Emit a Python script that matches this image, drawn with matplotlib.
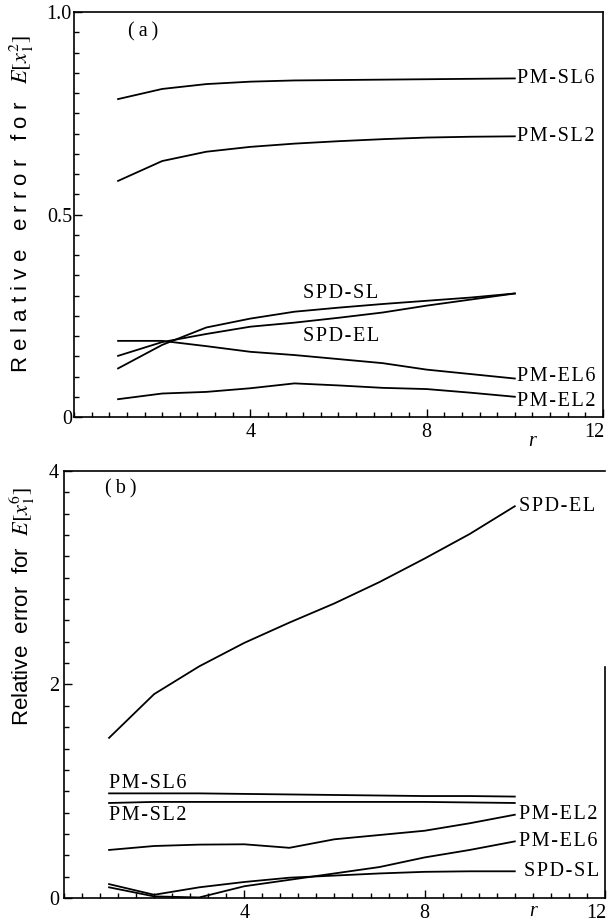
import matplotlib
matplotlib.use("Agg")
import matplotlib.pyplot as plt
import matplotlib.transforms as mtransforms
from matplotlib.ticker import MultipleLocator

plt.rcParams["font.family"] = ["Liberation Serif", "DejaVu Serif"]
plt.rcParams["mathtext.fontset"] = "stix"

r = [1, 2, 3, 4, 5, 6, 7, 8, 9, 10]

# (a) relative error for E[x1^2]
a_pm_sl6 = [0.785, 0.81, 0.822, 0.828, 0.831, 0.832, 0.833, 0.834, 0.835, 0.836]
a_pm_sl2 = [0.583, 0.632, 0.655, 0.667, 0.675, 0.681, 0.686, 0.69, 0.692, 0.693]
a_spd_sl = [0.120, 0.178, 0.221, 0.243, 0.260, 0.270, 0.279, 0.287, 0.295, 0.305]
a_spd_el = [0.151, 0.185, 0.205, 0.223, 0.233, 0.245, 0.258, 0.275, 0.290, 0.305]
a_pm_el6 = [0.188, 0.188, 0.175, 0.161, 0.153, 0.143, 0.133, 0.117, 0.106, 0.095]
a_pm_el2 = [0.044, 0.058, 0.062, 0.071, 0.083, 0.078, 0.072, 0.069, 0.060, 0.050]

# (b) relative error for E[x1^6]
b_spd_el = [1.50, 1.91, 2.17, 2.39, 2.58, 2.76, 2.96, 3.18, 3.41, 3.67]
b_pm_sl6 = [0.98, 0.98, 0.98, 0.975, 0.97, 0.965, 0.96, 0.955, 0.955, 0.95]
b_pm_sl2 = [0.89, 0.90, 0.90, 0.90, 0.90, 0.90, 0.90, 0.90, 0.895, 0.89]
b_pm_el2 = [0.45, 0.487, 0.50, 0.503, 0.47, 0.55, 0.59, 0.63, 0.70, 0.78]
b_pm_el6 = [0.10, 0.015, 0.005, 0.11, 0.17, 0.23, 0.29, 0.38, 0.45, 0.53]
b_spd_sl = [0.13, 0.03, 0.10, 0.15, 0.19, 0.21, 0.23, 0.245, 0.25, 0.25]


def spaced(s, sep="\u200a"):
    # the scanned figure has letter-spaced labels
    return sep.join(s)


fig = plt.figure(figsize=(6.11, 9.23), dpi=100)
ax1 = fig.add_axes([0.1211, 0.5482, 0.8658, 0.4388])
ax2 = fig.add_axes([0.1047, 0.0271, 0.8854, 0.4626])

lw = 1.3
fs = 14.5

for y in [a_pm_sl6, a_pm_sl2, a_spd_sl, a_spd_el, a_pm_el6, a_pm_el2]:
    ax1.plot(r, y, color="black", lw=lw)

for y in [b_spd_el, b_pm_sl6, b_pm_sl2, b_pm_el2, b_pm_el6, b_spd_sl]:
    ax2.plot(r, y, color="black", lw=lw)

# curve labels, panel (a)
ax1.text(10.05, a_pm_sl6[-1], spaced("PM-SL6"), fontsize=fs, va="center")
ax1.text(10.05, a_pm_sl2[-1], spaced("PM-SL2"), fontsize=fs, va="center")
ax1.text(6.05, 0.304, spaced("SPD-SL"), fontsize=fs, va="center", ha="center")
ax1.text(6.05, 0.198, spaced("SPD-EL"), fontsize=fs, va="center", ha="center")
ax1.text(10.05, 0.10, spaced("PM-EL6"), fontsize=fs, va="center")
ax1.text(10.05, 0.038, spaced("PM-EL2"), fontsize=fs, va="center")
ax1.text(1.57, 0.95, spaced("(a)", "\u2009"), fontsize=fs, va="center", ha="center")

# curve labels, panel (b)
ax2.text(10.1, b_spd_el[-1], spaced("SPD-EL"), fontsize=fs, va="center")
ax2.text(1.0, 1.077, spaced("PM-SL6"), fontsize=fs, va="center")
ax2.text(1.0, 0.777, spaced("PM-SL2"), fontsize=fs, va="center")
ax2.text(10.1, b_pm_el2[-1], spaced("PM-EL2"), fontsize=fs, va="center")
ax2.text(10.1, b_pm_el6[-1], spaced("PM-EL6"), fontsize=fs, va="center")
ax2.text(10.2, b_spd_sl[-1], spaced("SPD-SL"), fontsize=fs, va="center")
ax2.text(1.27, 3.83, spaced("(b)", "\u2009"), fontsize=fs, va="center", ha="center")

for ax, ymax, ystep, ypad, roff in [(ax1, 1.0, 0.05, 1.5, -11), (ax2, 4.0, 0.2, 3.5, -3)]:
    ax.set_xlim(0, 12)
    ax.set_ylim(0, ymax)
    ax.set_xticks([4, 8, 12])
    ax.xaxis.set_minor_locator(MultipleLocator(0.4))
    ax.yaxis.set_minor_locator(MultipleLocator(ystep))
    ax.tick_params(which="both", direction="in", top=False, right=False,
                   labelsize=fs, width=1.0)
    ax.tick_params(which="major", length=6)
    ax.tick_params(which="minor", length=3.6)
    ax.tick_params(axis="y", pad=ypad)
    ax.tick_params(axis="x", pad=4)
    for sp in ax.spines.values():
        sp.set_linewidth(1.2)
    ax.annotate("r", xy=(10.4, 0), xycoords=("data", "axes fraction"),
                xytext=(0, roff), textcoords="offset points",
                ha="center", va="top", fontsize=fs, style="italic")
    # pull the "12" label inside the figure edge
    last = ax.get_xticklabels()[-1]
    last.set_transform(last.get_transform()
                       + mtransforms.ScaledTranslation(-6 / 72, 0, fig.dpi_scale_trans))

ax1.set_yticks([0, 0.5, 1.0])
ax1.set_yticklabels(["0", "0.5", "1.0"])
ax2.set_yticks([0, 2, 4])
ax2.set_yticklabels(["0", "2", "4"])
ax2.spines["right"].set_bounds(0, 2.16)

sans = ["Liberation Sans", "DejaVu Sans"]
fig.text(0.036, 1 - 204 / 923,
         spaced("Relative", " ") + "   " + spaced("error", " ") + "   "
         + spaced("for", " ") + "   $E[x_1^2]$",
         rotation=90, ha="center", va="center", fontsize=16, family=sans)
fig.text(0.036, 1 - 607 / 923, "Relative  error  for  $E[x_1^6]$",
         rotation=90, ha="center", va="center", fontsize=16, family=sans)

fig.savefig("out.png", dpi=100)
